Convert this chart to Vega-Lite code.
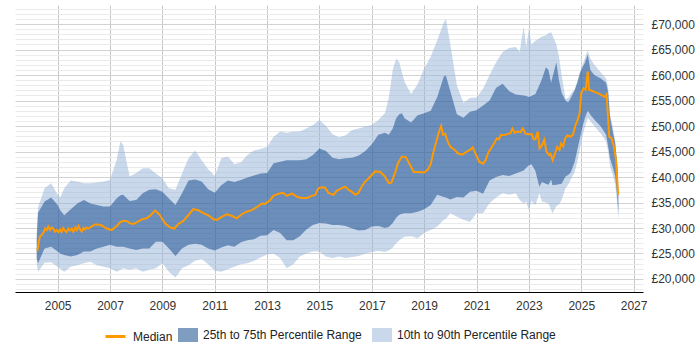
{
  "$schema": "https://vega.github.io/schema/vega-lite/v6.json",
  "width": 628,
  "height": 287,
  "autosize": "none",
  "padding": {"left": 15, "top": 5, "right": 57, "bottom": 58},
  "config": {
    "view": {"stroke": null},
    "font": "Liberation Sans",
    "axis": {"labelFont": "Liberation Sans", "labelFontSize": 12, "labelColor": "#333333", "title": null, "labelOverlap": false},
    "legend": {"labelOverlap": false, "labelFont": "Liberation Sans", "labelFontSize": 12, "labelColor": "#222222", "padding": 0}
  },
  "datasets": {
    "band": [
      {"t": 2004.2, "p10": 23000, "p25": 24000, "p75": 28000, "p90": 29000},
      {"t": 2004.25, "p10": 21400, "p25": 23100, "p75": 33000, "p90": 34000},
      {"t": 2004.5, "p10": 23200, "p25": 26000, "p75": 35200, "p90": 37800},
      {"t": 2004.75, "p10": 23300, "p25": 26300, "p75": 36000, "p90": 38800},
      {"t": 2005.0, "p10": 22400, "p25": 25400, "p75": 34500, "p90": 36500},
      {"t": 2005.1, "p10": 22000, "p25": 25000, "p75": 33500, "p90": 36000},
      {"t": 2005.25, "p10": 21400, "p25": 24700, "p75": 32500, "p90": 37800},
      {"t": 2005.5, "p10": 22400, "p25": 24400, "p75": 33700, "p90": 39300},
      {"t": 2005.75, "p10": 22700, "p25": 24700, "p75": 34800, "p90": 39100},
      {"t": 2006.0, "p10": 23100, "p25": 25400, "p75": 35500, "p90": 38800},
      {"t": 2006.25, "p10": 23400, "p25": 25400, "p75": 34800, "p90": 38800},
      {"t": 2006.5, "p10": 22700, "p25": 26000, "p75": 34500, "p90": 38900},
      {"t": 2006.75, "p10": 22400, "p25": 26300, "p75": 34200, "p90": 39100},
      {"t": 2007.0, "p10": 22100, "p25": 26700, "p75": 34200, "p90": 39400},
      {"t": 2007.25, "p10": 21400, "p25": 26300, "p75": 35800, "p90": 43300},
      {"t": 2007.4, "p10": 21800, "p25": 26300, "p75": 36400, "p90": 47000},
      {"t": 2007.5, "p10": 22100, "p25": 26300, "p75": 36500, "p90": 46300},
      {"t": 2007.75, "p10": 21800, "p25": 26000, "p75": 35300, "p90": 40100},
      {"t": 2008.0, "p10": 22100, "p25": 25700, "p75": 35500, "p90": 40800},
      {"t": 2008.25, "p10": 21400, "p25": 26000, "p75": 36800, "p90": 41700},
      {"t": 2008.5, "p10": 21800, "p25": 26000, "p75": 37500, "p90": 41700},
      {"t": 2008.75, "p10": 22100, "p25": 27300, "p75": 37600, "p90": 40700},
      {"t": 2009.0, "p10": 23100, "p25": 27300, "p75": 37100, "p90": 39700},
      {"t": 2009.25, "p10": 21400, "p25": 26000, "p75": 35800, "p90": 37800},
      {"t": 2009.5, "p10": 20300, "p25": 24500, "p75": 34500, "p90": 37500},
      {"t": 2009.75, "p10": 22100, "p25": 26000, "p75": 36800, "p90": 40700},
      {"t": 2010.0, "p10": 22700, "p25": 26700, "p75": 39300, "p90": 43700},
      {"t": 2010.25, "p10": 23600, "p25": 26900, "p75": 39500, "p90": 45200},
      {"t": 2010.5, "p10": 23900, "p25": 26700, "p75": 39100, "p90": 43300},
      {"t": 2010.75, "p10": 22900, "p25": 26000, "p75": 37600, "p90": 41500},
      {"t": 2011.0, "p10": 21600, "p25": 25600, "p75": 36900, "p90": 40200},
      {"t": 2011.25, "p10": 21400, "p25": 26200, "p75": 38400, "p90": 43700},
      {"t": 2011.5, "p10": 21900, "p25": 26600, "p75": 39300, "p90": 44000},
      {"t": 2011.75, "p10": 22400, "p25": 26300, "p75": 39000, "p90": 42500},
      {"t": 2012.0, "p10": 22900, "p25": 27200, "p75": 39400, "p90": 42900},
      {"t": 2012.25, "p10": 23100, "p25": 27600, "p75": 39900, "p90": 44300},
      {"t": 2012.5, "p10": 23600, "p25": 27800, "p75": 40300, "p90": 45200},
      {"t": 2012.75, "p10": 24200, "p25": 28500, "p75": 40700, "p90": 45500},
      {"t": 2013.0, "p10": 24800, "p25": 28600, "p75": 40800, "p90": 45900},
      {"t": 2013.25, "p10": 25000, "p25": 29600, "p75": 42700, "p90": 47900},
      {"t": 2013.5, "p10": 24100, "p25": 29000, "p75": 43000, "p90": 48900},
      {"t": 2013.75, "p10": 22100, "p25": 27600, "p75": 43300, "p90": 48700},
      {"t": 2014.0, "p10": 22900, "p25": 27600, "p75": 43300, "p90": 48900},
      {"t": 2014.25, "p10": 24400, "p25": 28400, "p75": 43300, "p90": 48900},
      {"t": 2014.5, "p10": 25000, "p25": 29700, "p75": 43500, "p90": 49500},
      {"t": 2014.75, "p10": 25400, "p25": 30600, "p75": 44300, "p90": 50200},
      {"t": 2015.0, "p10": 25400, "p25": 31000, "p75": 45600, "p90": 51200},
      {"t": 2015.25, "p10": 24400, "p25": 30900, "p75": 45100, "p90": 50000},
      {"t": 2015.5, "p10": 24100, "p25": 30600, "p75": 43800, "p90": 48400},
      {"t": 2015.75, "p10": 24400, "p25": 30600, "p75": 43500, "p90": 47800},
      {"t": 2016.0, "p10": 24100, "p25": 30400, "p75": 43700, "p90": 48200},
      {"t": 2016.25, "p10": 24300, "p25": 29900, "p75": 43800, "p90": 49200},
      {"t": 2016.5, "p10": 24500, "p25": 29500, "p75": 44200, "p90": 49500},
      {"t": 2016.75, "p10": 25000, "p25": 29600, "p75": 45100, "p90": 49900},
      {"t": 2017.0, "p10": 25300, "p25": 30300, "p75": 46400, "p90": 50200},
      {"t": 2017.25, "p10": 25500, "p25": 30400, "p75": 48300, "p90": 51200},
      {"t": 2017.5, "p10": 25300, "p25": 30000, "p75": 48700, "p90": 52500},
      {"t": 2017.65, "p10": 25600, "p25": 30200, "p75": 48300, "p90": 55500},
      {"t": 2017.8, "p10": 26200, "p25": 31000, "p75": 49500, "p90": 61000},
      {"t": 2017.93, "p10": 27000, "p25": 32000, "p75": 51500, "p90": 63200},
      {"t": 2018.05, "p10": 27600, "p25": 32600, "p75": 52300, "p90": 62500},
      {"t": 2018.15, "p10": 28000, "p25": 32800, "p75": 52500, "p90": 60500},
      {"t": 2018.25, "p10": 28300, "p25": 32900, "p75": 51500, "p90": 58700},
      {"t": 2018.5, "p10": 28400, "p25": 32900, "p75": 50700, "p90": 56300},
      {"t": 2018.75, "p10": 28000, "p25": 33200, "p75": 52100, "p90": 58200},
      {"t": 2019.0, "p10": 29000, "p25": 33700, "p75": 52500, "p90": 61300},
      {"t": 2019.25, "p10": 29600, "p25": 34500, "p75": 53000, "p90": 63600},
      {"t": 2019.5, "p10": 30300, "p25": 36500, "p75": 55700, "p90": 66800},
      {"t": 2019.75, "p10": 31600, "p25": 36100, "p75": 59700, "p90": 70300},
      {"t": 2019.83, "p10": 31800, "p25": 36000, "p75": 59900, "p90": 71000},
      {"t": 2020.0, "p10": 32900, "p25": 35600, "p75": 56800, "p90": 66000},
      {"t": 2020.25, "p10": 32200, "p25": 36100, "p75": 52300, "p90": 58000},
      {"t": 2020.5, "p10": 31600, "p25": 36000, "p75": 51600, "p90": 54500},
      {"t": 2020.75, "p10": 31200, "p25": 37100, "p75": 52800, "p90": 55500},
      {"t": 2021.0, "p10": 32900, "p25": 37300, "p75": 53100, "p90": 55600},
      {"t": 2021.25, "p10": 32900, "p25": 36700, "p75": 54000, "p90": 57300},
      {"t": 2021.5, "p10": 34900, "p25": 39300, "p75": 55000, "p90": 60000},
      {"t": 2021.75, "p10": 36000, "p25": 40000, "p75": 57500, "p90": 62500},
      {"t": 2022.0, "p10": 36800, "p25": 40400, "p75": 58300, "p90": 64500},
      {"t": 2022.25, "p10": 36500, "p25": 40200, "p75": 56800, "p90": 65300},
      {"t": 2022.5, "p10": 36800, "p25": 40700, "p75": 56200, "p90": 65500},
      {"t": 2022.65, "p10": 35500, "p25": 41000, "p75": 56100, "p90": 64500},
      {"t": 2022.8, "p10": 34800, "p25": 41300, "p75": 56000, "p90": 69500},
      {"t": 2022.9, "p10": 35200, "p25": 41800, "p75": 55900, "p90": 65500},
      {"t": 2023.0, "p10": 33500, "p25": 42300, "p75": 55700, "p90": 69000},
      {"t": 2023.1, "p10": 35300, "p25": 42500, "p75": 55900, "p90": 66000},
      {"t": 2023.25, "p10": 34500, "p25": 41200, "p75": 56300, "p90": 66700},
      {"t": 2023.4, "p10": 36800, "p25": 38100, "p75": 58000, "p90": 67200},
      {"t": 2023.5, "p10": 35200, "p25": 39000, "p75": 59200, "p90": 67500},
      {"t": 2023.65, "p10": 35000, "p25": 38700, "p75": 61500, "p90": 67800},
      {"t": 2023.75, "p10": 34800, "p25": 38500, "p75": 61000, "p90": 68200},
      {"t": 2023.85, "p10": 33600, "p25": 39500, "p75": 58500, "p90": 68400},
      {"t": 2023.9, "p10": 32900, "p25": 38400, "p75": 59500, "p90": 67800},
      {"t": 2024.05, "p10": 34300, "p25": 38500, "p75": 62500, "p90": 66000},
      {"t": 2024.15, "p10": 34600, "p25": 38600, "p75": 59000, "p90": 63600},
      {"t": 2024.25, "p10": 35500, "p25": 38700, "p75": 56500, "p90": 60000},
      {"t": 2024.4, "p10": 37800, "p25": 40100, "p75": 55000, "p90": 55300},
      {"t": 2024.5, "p10": 38500, "p25": 40400, "p75": 54600, "p90": 55500},
      {"t": 2024.6, "p10": 39500, "p25": 40900, "p75": 55500, "p90": 56300},
      {"t": 2024.75, "p10": 41000, "p25": 43000, "p75": 57000, "p90": 57200},
      {"t": 2024.85, "p10": 43000, "p25": 45300, "p75": 58500, "p90": 58800},
      {"t": 2024.95, "p10": 45500, "p25": 47600, "p75": 60300, "p90": 60600},
      {"t": 2025.05, "p10": 48000, "p25": 49900, "p75": 61500, "p90": 62000},
      {"t": 2025.15, "p10": 50000, "p25": 51700, "p75": 62500, "p90": 63500},
      {"t": 2025.25, "p10": 51500, "p25": 53000, "p75": 64000, "p90": 64800},
      {"t": 2025.35, "p10": 51000, "p25": 52200, "p75": 61000, "p90": 63200},
      {"t": 2025.5, "p10": 50000, "p25": 51300, "p75": 60000, "p90": 62000},
      {"t": 2025.75, "p10": 48500, "p25": 49900, "p75": 59300, "p90": 60500},
      {"t": 2025.95, "p10": 47000, "p25": 48300, "p75": 58500, "p90": 59300},
      {"t": 2026.03, "p10": 45000, "p25": 46000, "p75": 56500, "p90": 57500},
      {"t": 2026.1, "p10": 42000, "p25": 43700, "p75": 51800, "p90": 52200},
      {"t": 2026.2, "p10": 40500, "p25": 42000, "p75": 49000, "p90": 50000},
      {"t": 2026.3, "p10": 38500, "p25": 40100, "p75": 46500, "p90": 47000},
      {"t": 2026.38, "p10": 34500, "p25": 36100, "p75": 42000, "p90": 42500},
      {"t": 2026.42, "p10": 31500, "p25": 32500, "p75": 37000, "p90": 37500}
    ],
    "median": [
      {"t": 2004.22, "v": 25500}, {"t": 2004.32, "v": 28300}, {"t": 2004.45, "v": 29000},
      {"t": 2004.52, "v": 29900}, {"t": 2004.58, "v": 29600}, {"t": 2004.64, "v": 30300},
      {"t": 2004.71, "v": 29600}, {"t": 2004.77, "v": 30100}, {"t": 2004.83, "v": 29900},
      {"t": 2004.9, "v": 29300}, {"t": 2004.96, "v": 29600}, {"t": 2005.03, "v": 29200},
      {"t": 2005.09, "v": 29700}, {"t": 2005.15, "v": 29200}, {"t": 2005.21, "v": 30000},
      {"t": 2005.28, "v": 29500}, {"t": 2005.34, "v": 29200}, {"t": 2005.41, "v": 29900},
      {"t": 2005.47, "v": 29500}, {"t": 2005.54, "v": 29900}, {"t": 2005.6, "v": 29300},
      {"t": 2005.67, "v": 30100}, {"t": 2005.73, "v": 29600}, {"t": 2005.8, "v": 30400},
      {"t": 2005.85, "v": 29800}, {"t": 2005.92, "v": 29300}, {"t": 2005.98, "v": 30000},
      {"t": 2006.04, "v": 29700}, {"t": 2006.1, "v": 30100}, {"t": 2006.17, "v": 29900},
      {"t": 2006.3, "v": 30300}, {"t": 2006.43, "v": 30700}, {"t": 2006.55, "v": 30700},
      {"t": 2006.68, "v": 30500}, {"t": 2006.87, "v": 29900}, {"t": 2007.06, "v": 29600},
      {"t": 2007.26, "v": 30400}, {"t": 2007.4, "v": 31200}, {"t": 2007.55, "v": 31400},
      {"t": 2007.66, "v": 31300}, {"t": 2007.76, "v": 30900}, {"t": 2007.89, "v": 30800},
      {"t": 2008.02, "v": 31100}, {"t": 2008.21, "v": 31700}, {"t": 2008.4, "v": 31900},
      {"t": 2008.53, "v": 32400}, {"t": 2008.72, "v": 33400}, {"t": 2008.8, "v": 33100},
      {"t": 2008.91, "v": 32500}, {"t": 2009.1, "v": 30900}, {"t": 2009.3, "v": 30100},
      {"t": 2009.46, "v": 29900}, {"t": 2009.61, "v": 30800}, {"t": 2009.8, "v": 31400},
      {"t": 2009.99, "v": 32500}, {"t": 2010.18, "v": 33700}, {"t": 2010.37, "v": 33500},
      {"t": 2010.56, "v": 32900}, {"t": 2010.76, "v": 32500}, {"t": 2010.95, "v": 31700},
      {"t": 2011.08, "v": 31600}, {"t": 2011.27, "v": 32200}, {"t": 2011.46, "v": 32700},
      {"t": 2011.65, "v": 32400}, {"t": 2011.84, "v": 31900}, {"t": 2012.03, "v": 32700},
      {"t": 2012.22, "v": 33200}, {"t": 2012.41, "v": 33500}, {"t": 2012.61, "v": 34100},
      {"t": 2012.8, "v": 34800}, {"t": 2012.92, "v": 34700}, {"t": 2013.12, "v": 35500},
      {"t": 2013.24, "v": 36300}, {"t": 2013.43, "v": 36700}, {"t": 2013.62, "v": 36900},
      {"t": 2013.75, "v": 36300}, {"t": 2013.95, "v": 36800}, {"t": 2014.14, "v": 36100},
      {"t": 2014.33, "v": 35900}, {"t": 2014.52, "v": 35900}, {"t": 2014.71, "v": 36300},
      {"t": 2014.84, "v": 36500}, {"t": 2014.96, "v": 37800}, {"t": 2015.09, "v": 38000},
      {"t": 2015.22, "v": 37900}, {"t": 2015.34, "v": 36900}, {"t": 2015.54, "v": 36500},
      {"t": 2015.66, "v": 37300}, {"t": 2015.86, "v": 37800}, {"t": 2015.98, "v": 38100},
      {"t": 2016.11, "v": 37500}, {"t": 2016.24, "v": 37100}, {"t": 2016.37, "v": 36500},
      {"t": 2016.49, "v": 36900}, {"t": 2016.62, "v": 38200}, {"t": 2016.75, "v": 39100},
      {"t": 2016.87, "v": 39700}, {"t": 2017.0, "v": 40400}, {"t": 2017.13, "v": 41100},
      {"t": 2017.32, "v": 41000}, {"t": 2017.5, "v": 40100}, {"t": 2017.65, "v": 38800},
      {"t": 2017.75, "v": 38900}, {"t": 2017.9, "v": 41000}, {"t": 2018.0, "v": 42700},
      {"t": 2018.15, "v": 44000}, {"t": 2018.3, "v": 43900}, {"t": 2018.45, "v": 42500},
      {"t": 2018.6, "v": 41000}, {"t": 2018.75, "v": 41000}, {"t": 2019.0, "v": 40900},
      {"t": 2019.15, "v": 41500}, {"t": 2019.25, "v": 42500}, {"t": 2019.35, "v": 44800},
      {"t": 2019.45, "v": 46700}, {"t": 2019.55, "v": 48600}, {"t": 2019.65, "v": 50000},
      {"t": 2019.72, "v": 48300}, {"t": 2019.8, "v": 48500}, {"t": 2019.9, "v": 47000},
      {"t": 2020.0, "v": 45900}, {"t": 2020.15, "v": 45400}, {"t": 2020.3, "v": 44600},
      {"t": 2020.45, "v": 44400}, {"t": 2020.6, "v": 44900}, {"t": 2020.75, "v": 45300},
      {"t": 2020.85, "v": 45800}, {"t": 2021.0, "v": 44200}, {"t": 2021.1, "v": 43000},
      {"t": 2021.25, "v": 42600}, {"t": 2021.35, "v": 43300}, {"t": 2021.45, "v": 44800},
      {"t": 2021.55, "v": 45600}, {"t": 2021.66, "v": 46500}, {"t": 2021.78, "v": 47600},
      {"t": 2021.86, "v": 47400}, {"t": 2021.92, "v": 48200}, {"t": 2022.11, "v": 48300},
      {"t": 2022.23, "v": 48500}, {"t": 2022.3, "v": 48600}, {"t": 2022.37, "v": 49500},
      {"t": 2022.46, "v": 48700}, {"t": 2022.56, "v": 48900}, {"t": 2022.68, "v": 48800},
      {"t": 2022.77, "v": 49500}, {"t": 2022.87, "v": 48500}, {"t": 2022.99, "v": 48400},
      {"t": 2023.12, "v": 48400}, {"t": 2023.18, "v": 47400}, {"t": 2023.25, "v": 47400},
      {"t": 2023.34, "v": 48900}, {"t": 2023.41, "v": 45600}, {"t": 2023.5, "v": 46200},
      {"t": 2023.59, "v": 47300}, {"t": 2023.67, "v": 45000}, {"t": 2023.76, "v": 44400},
      {"t": 2023.82, "v": 44600}, {"t": 2023.91, "v": 43300}, {"t": 2024.01, "v": 44800},
      {"t": 2024.08, "v": 45900}, {"t": 2024.17, "v": 45300}, {"t": 2024.23, "v": 46600},
      {"t": 2024.31, "v": 46000}, {"t": 2024.39, "v": 47600}, {"t": 2024.48, "v": 48200},
      {"t": 2024.58, "v": 47900}, {"t": 2024.68, "v": 48200}, {"t": 2024.77, "v": 50000},
      {"t": 2024.86, "v": 51200}, {"t": 2024.94, "v": 52500}, {"t": 2025.0, "v": 56400},
      {"t": 2025.09, "v": 57400}, {"t": 2025.17, "v": 57100}, {"t": 2025.25, "v": 60700},
      {"t": 2025.3, "v": 57100}, {"t": 2025.61, "v": 56500}, {"t": 2025.91, "v": 55700},
      {"t": 2025.97, "v": 56200}, {"t": 2026.07, "v": 47900}, {"t": 2026.16, "v": 47600},
      {"t": 2026.25, "v": 45900}, {"t": 2026.33, "v": 43300}, {"t": 2026.41, "v": 36500}
    ]
  },
  "encoding": {
    "x": {
      "field": "t",
      "type": "quantitative",
      "scale": {"domain": [2003.37, 2027.36], "nice": false, "zero": false},
      "axis": {
        "orient": "bottom",
        "values": [2005, 2007, 2009, 2011, 2013, 2015, 2017, 2019, 2021, 2023, 2025, 2027],
        "format": "d",
        "grid": true,
        "gridColor": "#c8c8c8",
        "gridWidth": 1,
        "ticks": false,
        "domain": true,
        "domainColor": "#000000",
        "domainWidth": 1,
        "labelPadding": 8
      }
    }
  },
  "layer": [
    {
      "data": {"name": "band"},
      "mark": {"type": "area", "fillOpacity": 0.5, "interpolate": "linear"},
      "encoding": {
        "y": {
          "field": "p10",
          "type": "quantitative",
          "scale": {"domain": [17450, 73730], "nice": false, "zero": false},
          "axis": {
            "orient": "right",
            "values": [18000, 19000, 20000, 21000, 22000, 23000, 24000, 25000, 26000, 27000, 28000, 29000, 30000, 31000, 32000, 33000, 34000, 35000, 36000, 37000, 38000, 39000, 40000, 41000, 42000, 43000, 44000, 45000, 46000, 47000, 48000, 49000, 50000, 51000, 52000, 53000, 54000, 55000, 56000, 57000, 58000, 59000, 60000, 61000, 62000, 63000, 64000, 65000, 66000, 67000, 68000, 69000, 70000, 71000, 72000, 73000],
            "labelExpr": "datum.value % 5000 === 0 ? '£' + format(datum.value, ',') : ''",
            "labelOverlap": false,
            "grid": true,
            "gridColor": {"condition": {"test": "datum.value % 5000 === 0", "value": "#d2d2d2"}, "value": "#ebebeb"},
            "ticks": false,
            "domain": false,
            "labelPadding": 8
          }
        },
        "y2": {"field": "p90"},
        "fill": {
          "datum": "10th to 90th Percentile Range",
          "type": "nominal",
          "scale": {
            "domain": ["25th to 75th Percentile Range", "10th to 90th Percentile Range"],
            "range": ["#003983", "#93b1d7"]
          },
          "legend": {
            "title": null,
            "orient": "none",
            "direction": "horizontal",
            "legendX": 163,
            "legendY": 320,
            "symbolType": "M-1,-0.7H1V0.7H-1Z",
            "symbolSize": 400,
            "symbolOpacity": 0.5,
            "symbolStrokeWidth": 0,
            "labelOffset": 5,
            "columnPadding": 10
          }
        }
      }
    },
    {
      "data": {"name": "band"},
      "mark": {"type": "area", "fillOpacity": 0.463, "interpolate": "linear"},
      "encoding": {
        "y": {
          "field": "p25",
          "type": "quantitative",
          "axis": {
            "orient": "right",
            "values": [18000, 19000, 20000, 21000, 22000, 23000, 24000, 25000, 26000, 27000, 28000, 29000, 30000, 31000, 32000, 33000, 34000, 35000, 36000, 37000, 38000, 39000, 40000, 41000, 42000, 43000, 44000, 45000, 46000, 47000, 48000, 49000, 50000, 51000, 52000, 53000, 54000, 55000, 56000, 57000, 58000, 59000, 60000, 61000, 62000, 63000, 64000, 65000, 66000, 67000, 68000, 69000, 70000, 71000, 72000, 73000],
            "labelExpr": "datum.value % 5000 === 0 ? '£' + format(datum.value, ',') : ''",
            "labelOverlap": false,
            "grid": true,
            "gridColor": {"condition": {"test": "datum.value % 5000 === 0", "value": "#d2d2d2"}, "value": "#ebebeb"},
            "ticks": false,
            "domain": false,
            "labelPadding": 8
          }
        },
        "y2": {"field": "p75"},
        "fill": {
          "datum": "25th to 75th Percentile Range",
          "type": "nominal",
          "legend": {
            "title": null,
            "orient": "none",
            "direction": "horizontal",
            "legendX": 163,
            "legendY": 320,
            "symbolType": "M-1,-0.7H1V0.7H-1Z",
            "symbolSize": 400,
            "symbolOpacity": 0.5,
            "symbolStrokeWidth": 0,
            "labelOffset": 5,
            "columnPadding": 10
          }
        }
      }
    },
    {
      "data": {"name": "median"},
      "mark": {"type": "line", "strokeWidth": 2, "interpolate": "linear"},
      "encoding": {
        "y": {
          "field": "v",
          "type": "quantitative",
          "axis": {
            "orient": "right",
            "values": [18000, 19000, 20000, 21000, 22000, 23000, 24000, 25000, 26000, 27000, 28000, 29000, 30000, 31000, 32000, 33000, 34000, 35000, 36000, 37000, 38000, 39000, 40000, 41000, 42000, 43000, 44000, 45000, 46000, 47000, 48000, 49000, 50000, 51000, 52000, 53000, 54000, 55000, 56000, 57000, 58000, 59000, 60000, 61000, 62000, 63000, 64000, 65000, 66000, 67000, 68000, 69000, 70000, 71000, 72000, 73000],
            "labelExpr": "datum.value % 5000 === 0 ? '£' + format(datum.value, ',') : ''",
            "labelOverlap": false,
            "grid": true,
            "gridColor": {"condition": {"test": "datum.value % 5000 === 0", "value": "#d2d2d2"}, "value": "#ebebeb"},
            "ticks": false,
            "domain": false,
            "labelPadding": 8
          }
        },
        "stroke": {
          "datum": "Median",
          "type": "nominal",
          "scale": {"domain": ["Median"], "range": ["#ff9900"]},
          "legend": {
            "title": null,
            "orient": "none",
            "direction": "horizontal",
            "legendX": 89,
            "legendY": 320,
            "symbolType": "stroke",
            "symbolSize": 400,
            "symbolStrokeWidth": 3,
            "symbolOpacity": 1,
            "labelOffset": 6
          }
        }
      }
    }
  ]
}
